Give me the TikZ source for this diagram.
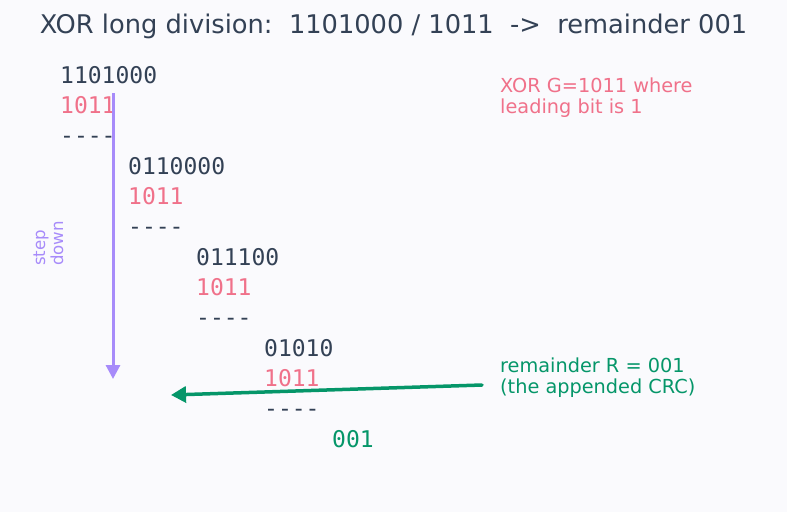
\documentclass[tikz,border=0pt]{standalone}
\usepackage{fontspec}
\setmainfont{DejaVu Sans}
\newfontfamily\bitfont{DejaVu Sans Mono}
\usetikzlibrary{arrows.meta}
\definecolor{ink}{HTML}{334155}
\definecolor{gpink}{HTML}{F0718A}
\definecolor{remgreen}{HTML}{059669}
\definecolor{stepviolet}{HTML}{A78BFA}
\definecolor{paper}{HTML}{FAFAFD}
\newcommand\dashrow{-\kern0pt-\kern0pt-\kern0pt-}
\begin{document}
\begin{tikzpicture}[x=1pt,y=-1pt,
        bits/.style={anchor=base west,inner sep=0pt,font=\bitfont\fontsize{23}{27}\selectfont},
        note/.style={anchor=base west,inner sep=0pt,align=left,font=\fontsize{19.3}{21.5}\selectfont},
        stepnote/.style={anchor=base west,inner sep=0pt,rotate=90,text=stepviolet,font=\fontsize{16.6}{18}\selectfont}]
        \fill[paper] (0,0) rectangle (787,512);
        \node[anchor=base,inner sep=0pt,text=ink,font=\fontsize{25.7}{30}\selectfont] (title) at (393.5,33) {XOR long division:\ \ 1101000 / 1011\ \ ->\ \ remainder 001};
        \foreach \dv [count=\k from 0] in {1101000,0110000,011100,01010} {
            \node[bits,text=ink] (div\k) at (60+68*\k,83+91*\k) {\dv};
            \node[bits,text=gpink] (g\k) at (60+68*\k,113.3+91*\k) {1011};
            \node[bits,text=ink] (bar\k) at (60+68*\k,143.6+91*\k) {\dashrow};
        }
        \node[bits,text=remgreen] (rem) at (332,447) {001};
        \node[note,text=gpink] (xorNote) at (500,113.5) {XOR G=1011 where\\leading bit is 1};
        \node[note,text=remgreen] (remNote) at (500,393.5) {remainder R = 001\\(the appended CRC)};
        \node[stepnote] (stepA) at (45,266) {step};
        \node[stepnote] (stepB) at (63,266) {down};
        \coordinate (stepTop) at (113,93);
        \coordinate (stepEnd) at (113,379);
        \coordinate (remFrom) at (482,385);
        \coordinate (remTo) at (171,395);
        \draw[stepviolet,line width=3pt,-{Triangle[length=14pt,width=14pt]}] (stepTop)--(stepEnd);
        \draw[remgreen,line width=3.5pt,line cap=round,-{Triangle[length=15pt,width=16pt]}] (remFrom)--(remTo);
    \end{tikzpicture}
\end{document}
